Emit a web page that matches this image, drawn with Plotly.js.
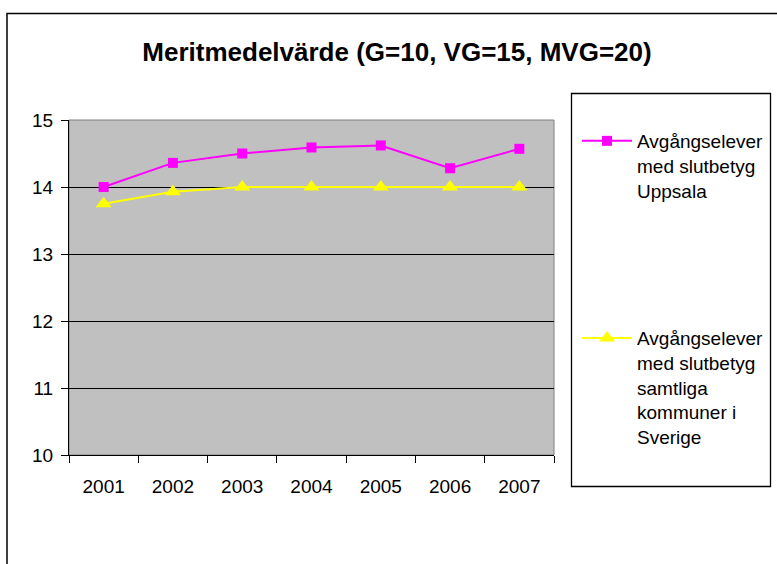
<!DOCTYPE html>
<html>
<head>
<meta charset="utf-8">
<script src="https://cdn.plot.ly/plotly-3.0.1.min.js"></script>
<style>html,body{margin:0;padding:0;background:#fff;}#chart{width:777px;height:564px;}</style>
</head>
<body>
<div id="chart"></div>
<script>
const years = ['2001', '2002', '2003', '2004', '2005', '2006', '2007'];
const uppsala = [14.0, 14.36, 14.5, 14.59, 14.62, 14.28, 14.57];
const sverige = [13.75, 13.93, 14.0, 14.0, 14.0, 14.0, 14.0];
const yTicks = [10, 11, 12, 13, 14, 15];
const nameUppsala = 'Avgångselever<br>med slutbetyg<br>Uppsala';
const nameSverige = 'Avgångselever<br>med slutbetyg<br>samtliga<br>kommuner i<br>Sverige';

const FONT = 'Liberation Sans, Arial, sans-serif';

const traces = [
  {
    x: years, y: uppsala, name: nameUppsala, type: 'scatter', mode: 'lines+markers',
    legendgroup: 'a',
    line: {color: '#FF00FF', width: 2},
    marker: {symbol: 'square', size: 10, color: '#FF00FF'}
  },
  {
    x: years, y: sverige, name: nameSverige, type: 'scatter', mode: 'lines+markers',
    legendgroup: 'b',
    line: {color: '#FFFF00', width: 2},
    marker: {symbol: 'triangle-up', size: 14, color: '#FFFF00'}
  }
];

const L = 69, R = 554, T = 120, B = 455, W = 777, H = 564;
const px2x = p => (p - L) / (R - L);
const py2y = p => (B - p) / (B - T);

const layout = {
  width: W, height: H,
  margin: {l: L, r: W - R, t: T, b: H - B, pad: 0, autoexpand: false},
  paper_bgcolor: '#FFFFFF',
  plot_bgcolor: '#C0C0C0',
  font: {family: FONT, color: '#000000', size: 19},
  title: {
    text: '<b>Meritmedelvärde (G=10, VG=15, MVG=20)</b>',
    font: {family: FONT, size: 26, color: '#000000'},
    xref: 'paper', x: px2x(397), xanchor: 'center',
    yref: 'container', y: 1 - 52 / H, yanchor: 'middle'
  },
  xaxis: {
    type: 'category',
    range: [-0.5, 6.5],
    automargin: false,
    showgrid: false, zeroline: false,
    showline: true, linecolor: '#000000', linewidth: 1,
    ticks: 'outside', ticklen: 7, tickcolor: '#000000', tickwidth: 1,
    tickson: 'boundaries',
    tickfont: {family: FONT, size: 19, color: '#000000'},
    ticklabelstandoff: 14,
    fixedrange: true
  },
  yaxis: {
    range: [10, 15],
    automargin: false,
    tickvals: yTicks,
    ticktext: yTicks.map(String),
    showgrid: true, gridcolor: '#000000', gridwidth: 1,
    zeroline: false,
    showline: true, linecolor: '#000000', linewidth: 1,
    ticks: 'outside', ticklen: 7, tickcolor: '#000000', tickwidth: 1,
    tickfont: {family: FONT, size: 19, color: '#000000'},
    ticklabelstandoff: 4,
    fixedrange: true
  },
  showlegend: true,
  legend: {
    x: px2x(577), xanchor: 'left',
    y: py2y(122), yanchor: 'top',
    bgcolor: 'rgba(0,0,0,0)',
    borderwidth: 0,
    font: {family: FONT, size: 19, color: '#000000'},
    traceorder: 'grouped',
    tracegroupgap: 120,
    valign: 'top',
    itemwidth: 50
  },
  shapes: [
    {type: 'rect', xref: 'paper', yref: 'paper', x0: 0, x1: 1, y0: 0, y1: 1,
     line: {color: '#808080', width: 1}, layer: 'below'},
    {type: 'rect', xref: 'paper', yref: 'paper',
     x0: px2x(571.5), x1: px2x(770.5), y0: py2y(486.5), y1: py2y(93.5),
     line: {color: '#000000', width: 1.3}},
    {type: 'rect', xref: 'paper', yref: 'paper',
     x0: px2x(7), x1: px2x(800), y0: py2y(600), y1: py2y(13.5),
     line: {color: '#000000', width: 1.5}}
  ]
};

Plotly.newPlot('chart', traces, layout, {displayModeBar: false, staticPlot: true});
</script>
</body>
</html>
